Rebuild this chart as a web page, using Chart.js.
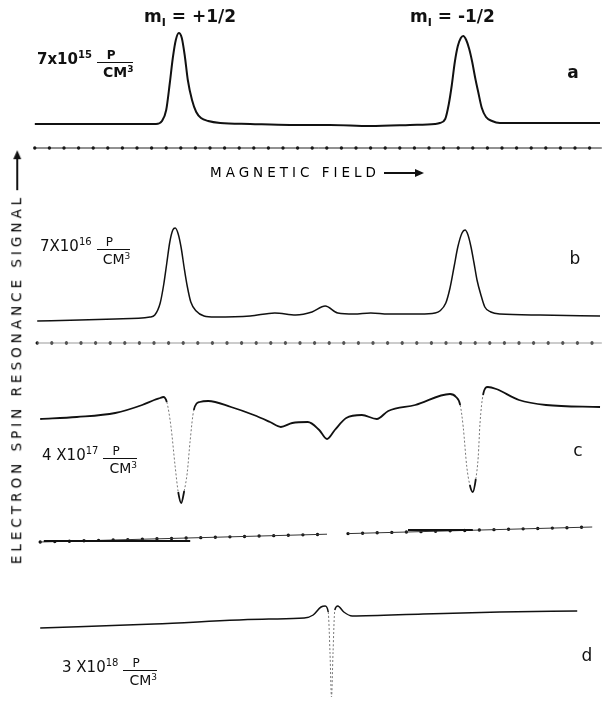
<!DOCTYPE html>
<html>
<head>
<meta charset="utf-8">
<script src="https://cdn.jsdelivr.net/npm/chart.js@4.4.0/dist/chart.umd.min.js"></script>
<style>
  body { margin: 0; background: #fff; }
  #wrap { position: relative; width: 602px; height: 702px; overflow: hidden; }
  #chart { position: absolute; left: 0; top: 0; }
  .lbl { position: absolute; font-family: "DejaVu Sans", sans-serif; color: #111; white-space: nowrap; line-height: 1; }
  .conc { font-size: 15px; transform: translateY(-50%); }
  .conc sup { font-size: 10px; vertical-align: 6px; }
  .frac { display: inline-block; vertical-align: middle; text-align: center; margin-left: 5px; position: relative; top: 5px; }
  .frac .num { display: block; font-size: 12px; border-bottom: 1.5px solid #111; padding: 0 8px 1px 0; }
  .frac .den { display: block; font-size: 14px; padding: 2px 0 0 6px; }
  .frac .den sup { font-size: 9px; vertical-align: 5px; }
  .mlab { font-size: 17px; font-weight: bold; top: 8px; }
  .mlab sub { font-size: 11px; }
  .tag { font-size: 17px; transform: translate(-50%, -50%); }
  #field { left: 210px; top: 166px; font-size: 13.5px; letter-spacing: 4px; color: #000; }
  .arrowR { display: inline-block; width: 38px; height: 1.5px; background: #111; vertical-align: middle; position: relative; margin-left: 4px; }
  .arrowR::after { content: ""; position: absolute; right: -2px; top: -3.5px; border-left: 9px solid #111; border-top: 4px solid transparent; border-bottom: 4px solid transparent; }
  #ylab { left: 17px; top: 358px; font-size: 13.5px; letter-spacing: 4px; color: #000; transform: translate(-50%, -50%) rotate(-90deg); }
</style>
</head>
<body>
<div id="wrap">
  <canvas id="chart" width="602" height="702"></canvas>
</div>
<script>
'use strict';

// magnetic field (arbitrary units) and signal (arbitrary units) for each sample
const fieldA = [5.8,11.7,18.3,23.3,26.0,27.0,27.7,28.3,28.8,29.3,29.8,30.3,30.8,31.3,32.0,32.7,33.5,34.7,36.7,41.7,48.3,55.0,61.7,68.3,72.5,73.3,74.2,74.8,75.3,75.8,76.3,76.8,77.2,77.7,78.2,78.7,79.2,79.7,80.3,81.0,82.0,83.3,90.0,100.0];
const signalA = [0,0,0,0,0,3,14,41,66,84,91,86,68,44,24,12,6,3,1,0,-1,-1,-2,-1,0,1,5,20,39,62,78,86,88,84,75,62,46,32,16,7,3,1,1,1];

const fieldB = [6.2,13.3,19.2,25.0,25.8,26.7,27.3,27.8,28.3,28.8,29.2,29.7,30.2,30.7,31.2,31.8,32.7,34.0,35.8,41.7,45.8,49.3,52.0,54.2,56.3,59.0,61.8,64.7,70.0,72.5,73.3,74.3,75.0,75.7,76.3,77.0,77.5,78.0,78.5,79.0,79.5,80.2,80.8,81.8,83.3,90.0,100.0];
const signalB = [-3,-2,-1,1,3,15,34,55,76,88,90,84,70,50,32,16,7,2,1,2,5,3,6,12,5,4,5,4,4,5,7,15,30,52,71,85,88,83,71,55,38,22,11,6,4,3,2];

const fieldC = [6.7,12.8,19.2,23.7,25.7,26.7,27.2,27.8,28.5,29.2,29.7,30.2,30.7,31.2,31.7,32.3,33.3,34.7,38.5,42.3,45.0,46.8,48.7,51.3,53.2,54.5,55.8,57.7,60.3,62.8,64.7,69.2,75.0,76.0,76.7,77.2,77.8,78.3,78.8,79.3,79.7,80.0,80.5,81.3,82.7,86.5,91.0,100.0];
const signalC = [-12,-10,-6,2,7,9,10,5,-20,-60,-85,-96,-84,-66,-33,-3,5,6,0,-8,-15,-20,-16,-15,-23,-32,-23,-11,-8,-12,-4,2,13,10,2,-20,-60,-78,-85,-72,-50,-16,12,20,18,7,2,0];

const fieldD = [6.7,25.7,44.8,50.7,52.2,53.5,54.2,54.7,55.0,55.25,55.5,55.8,56.3,57.3,58.7,70.5,83.3,96.2];
const signalD = [-8,-4,1,2,5,13,14,8,-33,-77,-33,10,14,8,4,6,8,9];

// vertical level of each trace on the page
const traceLevels = [578, 384, 295, 82];

// field marker lines under a, b, c
const markFieldA = [5.8, 100.3];
const markLevelA = [554, 554];
const markFieldB = [6.2, 100.3];
const markLevelB = [359, 359];
const markFieldC = [6.7, 54.5, 56.2, 58.0, 98.7];
const markLevelC = [160, 167.8, null, 168.4, 175];
const penFieldC = [7.3, 31.7, 50, 68.0, 78.8];
const penLevelC = [161, 161, null, 172, 172];

const traceNames = ['a', 'b', 'c', 'd'];
const concMantissa = ['7x10', '7X10', '4 X10', '3 X10'];
const concExponent = ['15', '16', '17', '18'];
const spinLabels = ['+1/2', '-1/2'];

function pts(xs, ys, level) {
  let out = [];
  for (let i = 0; i < xs.length; i++) {
    out.push({x: xs[i], y: ys[i] === null ? null : ys[i] + (level || 0)});
  }
  return out;
}

const steep = ctx => Math.abs((ctx.p1.parsed.y - ctx.p0.parsed.y) / (ctx.p1.parsed.x - ctx.p0.parsed.x)) > 30;

function trace(xs, ys, level, width, fast) {
  let ds = {
    data: pts(xs, ys, level),
    borderColor: '#111',
    borderWidth: width,
    pointRadius: 0,
    cubicInterpolationMode: 'monotone',
    fill: false
  };
  if (fast) {
    ds.segment = {
      borderColor: ctx => steep(ctx) ? '#777' : undefined,
      borderWidth: ctx => steep(ctx) ? 1 : undefined,
      borderDash: ctx => steep(ctx) ? [2, 2] : undefined
    };
  }
  return ds;
}

function markLine(xs, ys, lineColor) {
  return [{
    data: pts(xs, ys),
    borderColor: lineColor,
    borderWidth: 1,
    pointRadius: 0,
    spanGaps: false
  }, {
    data: pts(xs, ys),
    borderColor: '#111',
    borderWidth: 3.4,
    borderDash: [0, 14.6],
    borderCapStyle: 'round',
    pointRadius: 0,
    spanGaps: false
  }];
}

let datasets = [
  trace(fieldA, signalA, traceLevels[0], 2, false),
  trace(fieldB, signalB, traceLevels[1], 1.5, false),
  trace(fieldC, signalC, traceLevels[2], 1.8, true),
  trace(fieldD, signalD, traceLevels[3], 1.5, true),
  {data: pts(penFieldC, penLevelC), borderColor: '#111', borderWidth: 2.2, pointRadius: 0, spanGaps: false}
].concat(markLine(markFieldA, markLevelA, '#222'), markLine(markFieldB, markLevelB, '#999'), markLine(markFieldC, markLevelC, '#333'));

let ctx = document.getElementById('chart').getContext('2d');
let myChart = new Chart(ctx, {
  type: 'line',
  data: {datasets: datasets},
  options: {
    responsive: false,
    animation: false,
    events: [],
    layout: {padding: 0},
    plugins: {legend: {display: false}, tooltip: {enabled: false}},
    scales: {
      x: {type: 'linear', min: 0, max: 100.33, display: false},
      y: {type: 'linear', min: 0, max: 702, display: false}
    }
  }
});

// text labels
const wrap = document.getElementById('wrap');
function addLabel(cls, html, left, top, id) {
  const el = document.createElement('div');
  el.className = 'lbl ' + cls;
  if (id) el.id = id;
  el.innerHTML = html;
  if (left !== null) el.style.left = left + 'px';
  if (top !== null) el.style.top = top + 'px';
  wrap.appendChild(el);
  return el;
}

const concPos = [[37, 59], [40, 246], [42, 455], [62, 667]];
const tagPos = [[573, 72], [575, 258], [578, 450], [587, 655]];
for (let i = 0; i < 4; i++) {
  const el = addLabel('conc', concMantissa[i] + '<sup>' + concExponent[i] + '</sup>' +
    '<span class="frac"><span class="num">P</span><span class="den">CM<sup>3</sup></span></span>',
    concPos[i][0], concPos[i][1]);
  if (i === 0) el.style.fontWeight = 'bold';
  const t = addLabel('tag', traceNames[i], tagPos[i][0], tagPos[i][1]);
  if (i === 0) t.style.fontWeight = 'bold';
}
addLabel('mlab', 'm<sub>I</sub> = ' + spinLabels[0], 144, null);
addLabel('mlab', 'm<sub>I</sub> = ' + spinLabels[1], 410, null);
addLabel('', 'MAGNETIC FIELD<span class="arrowR"></span>', null, null, 'field');
addLabel('', 'ELECTRON SPIN RESONANCE SIGNAL<span class="arrowR"></span>', null, null, 'ylab');
</script>
</body>
</html>
